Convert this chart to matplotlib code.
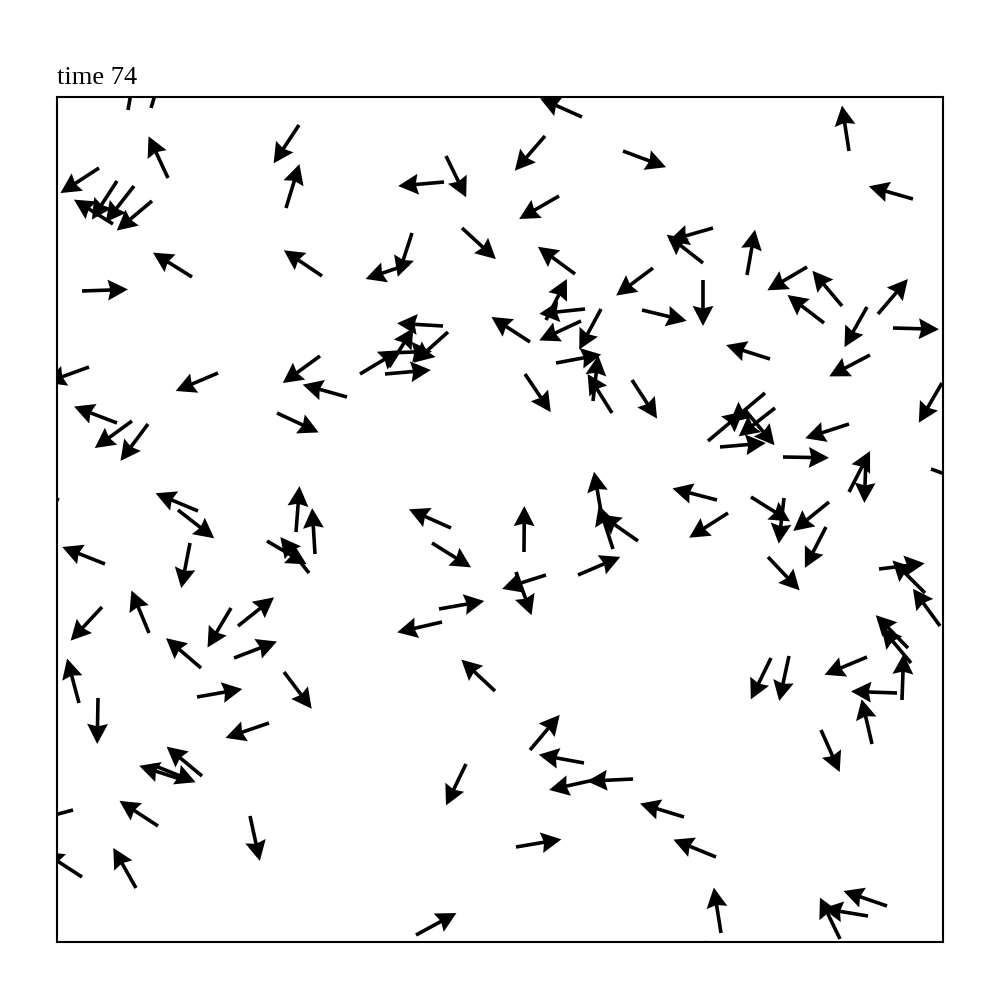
import numpy as np
import matplotlib
matplotlib.use('Agg')
import matplotlib.pyplot as plt

# particle positions (box 88.6 x 84.5) and headings in degrees, time step 74
xPos = [7.1, 9.4, 11.1, 24.2, 22.9, 4.2, 5.6, 6.0, 7.7, 9.5,
        13.5, 26.5, 2.5, 3.2, 16.1, 26.3, 52.5, 48.8, 56.6, 38.7,
        38.9, 50.2, 35.5, 35.2, 40.5, 51.8, 59.6, 58.5, 48.9, 52.8,
        52.4, 54.4, 47.3, 38.6, 39.1, 33.2, 30.3, 32.9, 32.8, 46.8,
        49.9, 53.6, 55.5, 57.5, 79.2, 85.6, 65.6, 64.6, 69.0, 64.6,
        75.0, 78.5, 76.7, 81.0, 82.1, 83.6, 71.3, 81.3, 88.5, 29.0,
        6.0, 7.5, 9.1, 22.0, 14.1, 12.1, 13.3, 23.9, 25.8, 25.2,
        21.0, 4.8, 0.2, 4.5, 9.2, 17.4, 18.1, 14.4, 17.7, 2.2,
        39.4, 37.5, 46.7, 48.9, 45.9, 38.2, 38.5, 52.1, 58.1, 55.6,
        54.5, 43.8, 66.3, 65.1, 70.8, 71.8, 68.8, 79.2, 72.6, 79.2,
        80.9, 87.4, 66.0, 67.1, 69.4, 72.7, 77.2, 76.9, 71.1, 82.2,
        86.8, 88.3, 85.1, 85.4, 84.5, 71.4, 73.2, 81.0, 84.0, 81.5,
        76.4, 62.7, 65.9, 66.4, 65.0, 83.0, 81.1, 78.3, 47.3, 52.7,
        57.6, 53.7, 40.9, 45.9, 35.9, 4.1, 14.0, 22.7, 21.2, 14.5,
        12.6, 9.6, 10.1, 1.6, 2.5, 7.9, 19.3]
yPos = [83.2, 83.4, 76.4, 81.7, 73.4, 77.4, 71.8, 76.1, 75.6, 74.1,
        66.5, 66.6, 65.1, 57.5, 56.9, 58.6, 82.5, 80.6, 79.1, 76.0,
        78.6, 74.6, 70.9, 67.8, 71.4, 66.8, 67.4, 63.2, 62.2, 63.3,
        62.1, 63.3, 60.0, 61.6, 61.0, 57.5, 56.8, 58.9, 56.8, 56.8,
        57.9, 54.1, 52.9, 56.2, 79.1, 74.3, 71.4, 67.9, 66.7, 66.2,
        67.5, 63.6, 61.9, 63.5, 62.8, 61.4, 58.3, 58.7, 55.9, 54.5,
        51.9, 52.1, 51.8, 52.9, 43.1, 43.2, 39.9, 41.0, 38.8, 36.9,
        40.1, 37.8, 44.2, 33.5, 30.9, 33.4, 31.6, 27.4, 28.4, 23.9,
        41.4, 39.9, 39.0, 36.7, 37.0, 33.3, 32.0, 36.7, 40.1, 39.3,
        42.5, 25.1, 49.5, 50.1, 54.9, 53.4, 53.2, 51.8, 48.5, 45.0,
        48.5, 47.3, 44.2, 42.9, 44.5, 44.4, 44.0, 41.5, 38.5, 37.3,
        34.9, 31.6, 29.4, 27.9, 24.2, 28.4, 28.6, 28.5, 24.9, 19.8,
        21.2, 12.5, 8.5, 0.9, 0.1, 3.6, 2.6, 0.3, 19.2, 17.9,
        16.3, 16.2, 17.8, 9.5, 0.7, 24.4, 24.5, 27.0, 21.9, 16.6,
        16.2, 17.7, 11.6, 13.2, 6.5, 5.4, 12.6]
headingDeg = [80, 73, 115, 236.5, 73, 213, 148, 237, 232, 220,
              148, 146, 2, 200, 203, 216, 156, 229, 339.4, 185,
              296, 210, 252, 199, 317.4, 143.7, 216.8, 346.3, 63, 186,
              205, 241.7, 147, 176.6, 221.8, 58, 31, 2, 5, 304,
              10.6, 83.5, 122, 303, 98.8, 164, 196, 142, 80, 270,
              210.5, 130, 142.5, 240.7, 49.5, 358.4, 162.4, 207.7, 239.7, 164.4,
              159, 216, 233.3, 335, 157.3, 322, 259, 85.6, 93.5, 128.6,
              329.5, 158.3, 160, 227, 112.5, 239.3, 38.5, 139.5, 21, 105,
              156, 328, 89.6, 197.6, 289.8, 10, 193, 23.2, 145, 108,
              100, 137, 5, 40, 220, 218, 310, 198, 359, 62.8,
              268, 340, 165.4, 212.5, 328, 263.4, 219, 242.7, 313.5, 7,
              135, 126, 134.5, 130, 88, 244, 257.7, 202.7, 178, 103,
              294, 163, 157.8, 99, 260, 161, 170.6, 115.8, 49.8, 169.6,
              182.8, 192.5, 244.2, 9.6, 28.5, 269, 10, 307, 198.9, 140.3,
              162, 338, 146.9, 195, 147, 119.5, 282.3]
boxW = 88.6
boxH = 84.5
timeStep = 74

theta = np.radians(headingDeg)
u = np.cos(theta)
v = np.sin(theta)

fig = plt.figure(figsize=(10, 10), dpi=100)
ax = fig.add_axes([0.057, 0.058, 0.886, 0.845])
ax.quiver(xPos, yPos, u, v, angles='uv', scale_units='dots', scale=1/46.,
          units='dots', width=3.6, headwidth=5.8, headlength=5.6,
          headaxislength=5.0, color='black', pivot='tail')
ax.set_xlim(0, boxW)
ax.set_ylim(0, boxH)
ax.set_xticks([])
ax.set_yticks([])
for sp in ax.spines.values():
    sp.set_linewidth(1.5)
ax.set_title('time %d' % timeStep, loc='left', fontsize=19, pad=9,
             family=['Liberation Serif', 'DejaVu Serif'])

plt.savefig('out.png', dpi=100)
